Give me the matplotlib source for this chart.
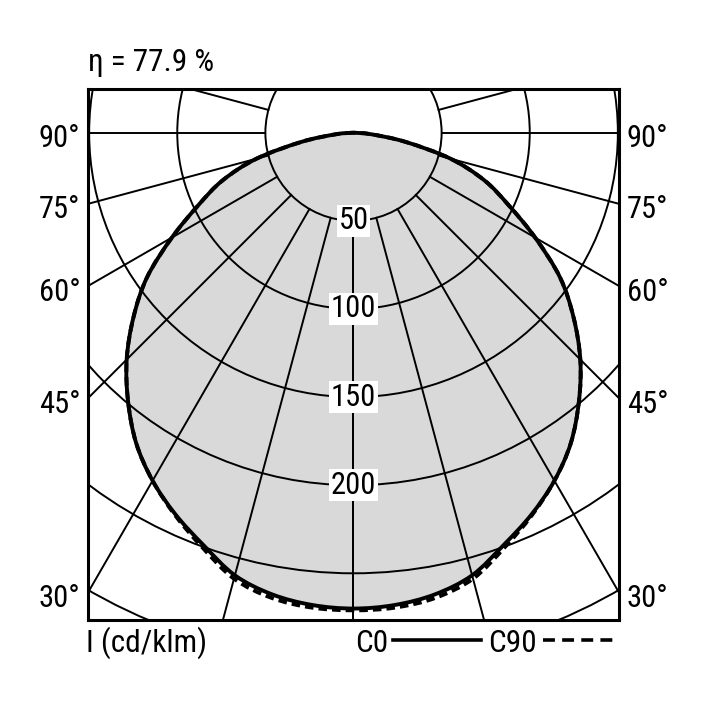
import numpy as np
import matplotlib
matplotlib.use("Agg")
import matplotlib.pyplot as plt
from matplotlib.patches import Circle, PathPatch
from matplotlib.path import Path

plt.rcParams['font.family'] = ['Roboto Condensed', 'Liberation Sans Narrow', 'Liberation Sans', 'DejaVu Sans']
plt.rcParams['font.stretch'] = 'condensed'

# luminous intensity (cd/klm) vs angle from nadir
angles = [0, 5, 10, 15, 20, 25, 30, 35, 40, 45, 50, 55, 60, 65, 70, 75, 80, 85, 90]
c0 = [270, 269, 266, 260, 249, 239, 228, 215, 199, 182, 163, 143, 119, 97, 79, 57, 30, 10, 0]
c90 = [271, 270.5, 268, 262, 250.5, 239.5, 228, 215, 199, 182, 163, 143, 119, 97, 79, 57, 30, 10, 0]
ring_values = [50, 100, 150, 200, 250, 300]
ring_labels = [50, 100, 150, 200]
side_angles = [90, 75, 60, 45, 30]
efficiency = "η = 77.9 %"

xlim = (-150.5, 150.5)
ylim = (-276.5, 24.8)


def curve_xy(vals):
    a = np.deg2rad(np.array(angles, dtype=float))
    v = np.array(vals, dtype=float)
    th = np.concatenate([-a[::-1], a[1:]])
    r = np.concatenate([v[::-1], v[1:]])
    return r * np.sin(th), -r * np.cos(th)


def smooth_path(x, y):
    # catmull-rom through the points, as cubic bezier segments
    pts = np.column_stack([x, y])
    verts = [pts[0]]
    codes = [Path.MOVETO]
    n = len(pts)
    for i in range(n - 1):
        p0 = pts[max(i - 1, 0)]
        p1 = pts[i]
        p2 = pts[i + 1]
        p3 = pts[min(i + 2, n - 1)]
        verts += [p1 + (p2 - p0) / 6, p2 - (p3 - p1) / 6, p2]
        codes += [Path.CURVE4] * 3
    return Path(verts, codes)


fig = plt.figure(figsize=(7.08, 7.08), dpi=100)
ax = fig.add_axes([88 / 708, 88 / 708, 531 / 708, 531 / 708])
ax.set_xlim(*xlim)
ax.set_ylim(*ylim)
ax.set_aspect('equal', adjustable='box')
ax.set_xticks([])
ax.set_yticks([])
for s in ax.spines.values():
    s.set_linewidth(2.2)
    s.set_zorder(10)

x0, y0 = curve_xy(c0)
p0 = smooth_path(x0, y0)
ax.add_patch(PathPatch(p0, facecolor='#d9d9d9', lw=0, zorder=1))

# grid
for r in ring_values:
    ax.add_patch(Circle((0, 0), r, fill=False, ec='black', lw=1.4, zorder=2))
for a in range(0, 181, 15):
    t = np.deg2rad(a)
    for sgn in (-1, 1):
        ax.plot([sgn * 50 * np.sin(t), sgn * 500 * np.sin(t)],
                [-50 * np.cos(t), -500 * np.cos(t)], color='black', lw=1.4, zorder=2)

# curves
ax.add_patch(PathPatch(p0, fill=False, ec='black', lw=2.8, zorder=3))
x90, y90 = curve_xy(c90)
ax.add_patch(PathPatch(smooth_path(x90, y90), fill=False, ec='black', lw=2.8,
                       ls=(0, (2.2, 1.3)), zorder=3))

for v in ring_labels:
    ax.text(0, -v, str(v), ha='center', va='center', fontsize=22, zorder=5,
            bbox=dict(facecolor='white', edgecolor='none', pad=1.0))

for a in side_angles:
    yy = 0 if a == 90 else -xlim[1] / np.tan(np.deg2rad(a))
    ax.text(xlim[0] - 4.5, yy - 3.5, f"{a}°", ha='right', va='center', fontsize=22,
            clip_on=False)
    ax.text(xlim[1] + 4.5, yy - 3.5, f"{a}°", ha='left', va='center', fontsize=22,
            clip_on=False)

fig.text(88 / 708, 1 - 71 / 708, efficiency, ha='left', va='baseline', fontsize=22.5)
fig.text(86 / 708, 1 - 652 / 708, "I (cd/klm)", ha='left', va='baseline', fontsize=22.5)
fig.text(355 / 708, 1 - 652 / 708, "C0", ha='left', va='baseline', fontsize=22.5)
fig.text(488 / 708, 1 - 652 / 708, "C90", ha='left', va='baseline', fontsize=22.5)
fig.add_artist(plt.Line2D([393 / 708, 481 / 708], [1 - 640 / 708, 1 - 640 / 708],
                          color='black', lw=2.6, transform=fig.transFigure))
fig.add_artist(plt.Line2D([543 / 708, 616 / 708], [1 - 640 / 708, 1 - 640 / 708],
                          color='black', lw=2.6, ls=(0, (3.3, 2.0)), transform=fig.transFigure))

fig.savefig("out.png", dpi=100, facecolor='white')
